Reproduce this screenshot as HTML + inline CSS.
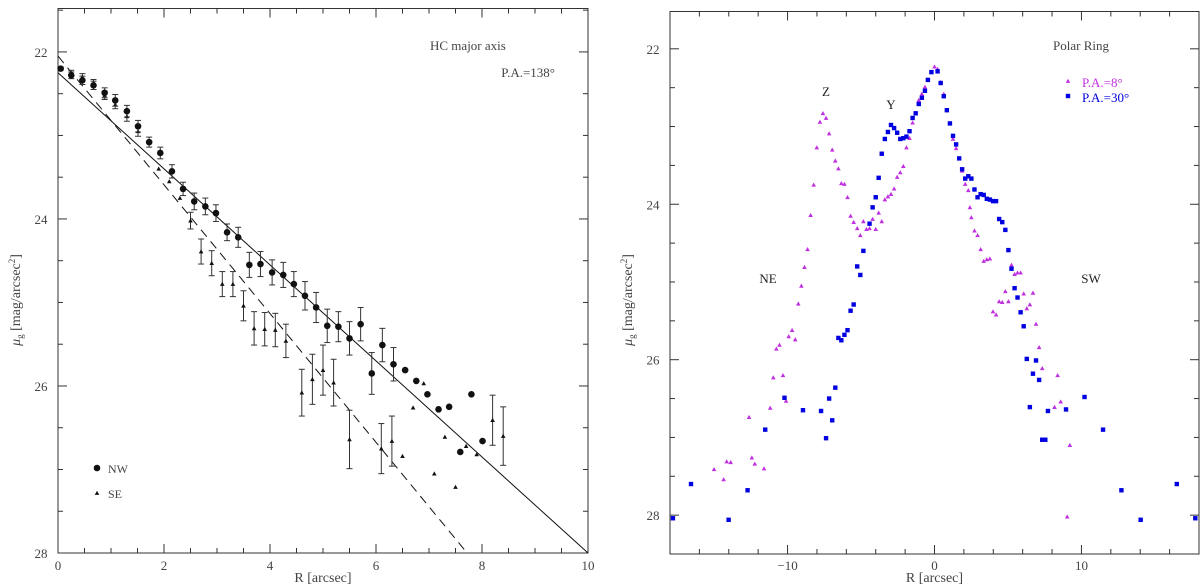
<!DOCTYPE html>
<html><head><meta charset="utf-8"><style>
html,body{margin:0;padding:0;background:#fff;width:1200px;height:586px;overflow:hidden}
svg{display:block}
text{font-family:"Liberation Serif",serif;fill:#444}
</style></head><body>
<svg id="c" width="1200" height="586"></svg>
<script>
// ---- Left panel data ----
const nwR=[0.05,0.25,0.46,0.67,0.88,1.08,1.30,1.51,1.72,1.93,2.15,2.36,2.57,2.78,2.98,3.19,3.40,3.61,3.82,4.04,4.25,4.45,4.66,4.87,5.08,5.29,5.50,5.71,5.92,6.12,6.33,6.55,6.76,6.97,7.18,7.38,7.59,7.80,8.01];
const nwMu=[22.20,22.28,22.34,22.40,22.49,22.58,22.71,22.89,23.08,23.21,23.43,23.64,23.79,23.85,23.93,24.16,24.22,24.55,24.54,24.64,24.67,24.78,24.92,25.06,25.28,25.29,25.43,25.26,25.85,25.51,25.74,25.81,25.94,26.10,26.28,26.25,26.79,26.10,26.66];
const nwErr=[0.02,0.04,0.05,0.05,0.06,0.07,0.07,0.07,0.06,0.07,0.08,0.08,0.1,0.1,0.1,0.1,0.12,0.15,0.15,0.15,0.15,0.15,0.17,0.18,0.2,0.18,0.2,0.2,0.25,0.2,0.2,0,0,0,0,0,0,0,0];
const seR=[0.05,0.25,0.46,0.67,0.88,1.08,1.30,1.51,1.90,2.10,2.30,2.50,2.70,2.90,3.10,3.30,3.50,3.70,3.90,4.10,4.30,4.60,4.80,5.00,5.20,5.50,6.10,6.30,6.50,6.70,6.90,7.10,7.30,7.50,7.70,7.90,8.20,8.40];
const seMu=[22.20,22.25,22.30,22.37,22.52,22.63,22.77,22.95,23.40,23.55,23.75,24.02,24.39,24.53,24.78,24.78,25.04,25.31,25.32,25.33,25.46,26.08,25.92,25.81,25.96,26.64,26.75,26.66,26.84,26.26,25.97,27.05,26.61,27.21,26.72,26.82,26.41,26.60];
const seErr=[0,0.03,0.04,0.04,0.05,0.05,0.06,0.06,0,0,0,0.1,0.15,0.15,0.15,0.15,0.18,0.2,0.2,0.2,0.2,0.28,0.3,0.3,0.28,0.35,0.3,0.3,0,0,0,0,0,0,0,0,0.3,0.35];
const solidLine=[[0,22.25],[10,28]];
const dashLine=[[0,22.05],[7.72,28]];
const leftXTicks=[0,2,4,6,8,10];
const leftYTicks=[22,24,26,28];
// ---- Right panel data ----
const pa8R=[-15.0,-14.35,-14.14,-13.87,-12.62,-12.43,-12.23,-11.6,-11.18,-10.97,-10.76,-10.55,-10.31,-10.1,-9.92,-9.69,-9.48,-9.27,-9.06,-8.85,-8.64,-8.43,-8.22,-8.01,-7.8,-7.59,-7.38,-7.17,-6.96,-6.75,-6.54,-6.34,-6.13,-5.92,-5.71,-5.5,-5.26,-5.05,-4.84,-4.63,-4.42,-4.21,-4.0,-3.8,-3.59,-3.38,-3.17,-2.96,-2.75,-2.54,-2.33,-2.12,-1.91,-1.7,-1.49,-1.28,-1.07,-0.86,-0.65,-0.45,-0.21,0,0.21,0.42,0.63,0.84,1.05,1.26,1.47,1.68,1.88,2.09,2.30,2.41,2.51,2.72,2.93,3.14,3.35,3.56,3.77,3.98,4.19,4.40,4.61,4.82,5.03,5.24,5.45,5.65,5.86,6.07,6.28,6.49,6.70,6.91,7.12,7.33,8.17,8.38,8.59,9.21,9.03];
const pa8Mu=[27.41,27.54,27.31,27.32,26.74,27.26,27.34,27.40,26.62,26.23,25.86,25.81,26.20,26.53,25.70,25.62,25.74,25.28,25.05,24.81,24.58,24.14,23.75,23.27,22.94,22.83,22.89,23.09,23.30,23.44,23.54,23.73,23.74,23.91,24.15,24.23,24.31,24.40,24.22,24.32,24.31,24.19,24.32,24.11,24.22,23.94,23.90,23.87,23.80,23.65,23.59,23.51,23.27,23.15,22.95,22.83,22.66,22.58,22.49,22.40,22.30,22.23,22.26,22.43,22.58,22.79,22.96,23.16,23.28,23.41,23.57,23.74,23.82,24.04,24.17,24.34,24.40,24.58,24.73,24.71,24.70,25.38,25.42,25.25,25.26,25.12,25.25,24.78,24.90,24.88,24.88,25.15,25.34,25.29,25.14,25.54,25.84,26.11,26.61,26.20,26.54,27.10,28.02];
const pa30R=[-17.8,-16.57,-14.01,-12.72,-11.52,-10.21,-8.95,-7.72,-7.38,-7.17,-6.96,-6.75,-6.54,-6.34,-6.13,-5.92,-5.71,-5.5,-5.26,-5.05,-4.84,-4.42,-4.21,-4.0,-3.8,-3.59,-3.38,-3.17,-2.96,-2.75,-2.54,-2.33,-2.12,-1.91,-1.7,-1.49,-1.28,-1.07,-0.86,-0.65,-0.45,-0.21,0.21,0.42,0.63,0.84,1.05,1.26,1.47,1.68,1.88,2.09,2.30,2.51,2.72,2.93,3.14,3.35,3.56,3.77,3.98,4.19,4.40,4.61,4.82,5.03,5.24,5.45,5.65,5.86,6.07,6.28,6.49,6.70,6.91,7.12,7.33,7.54,7.72,8.95,10.21,11.47,12.72,14.03,16.49,17.75];
const pa30Mu=[28.04,27.60,28.06,27.68,26.90,26.49,26.65,26.66,27.01,26.50,26.78,26.36,25.72,25.75,25.68,25.62,25.37,25.29,24.80,24.91,24.60,24.25,24.04,23.91,23.66,23.35,23.16,23.07,22.98,23.02,23.08,23.16,23.15,23.13,23.06,22.89,22.83,22.71,22.63,22.54,22.40,22.30,22.29,22.44,22.61,22.79,22.96,23.12,23.23,23.41,23.55,23.67,23.64,23.67,23.81,23.91,23.87,23.88,23.93,23.94,23.96,23.96,24.19,24.23,24.33,24.59,24.83,25.08,25.20,25.39,25.57,25.99,26.61,26.18,26.01,26.26,27.03,27.03,26.66,26.64,26.48,26.90,27.68,28.06,27.60,28.04];
const rightXTicks=[-10,0,10];
const rightYTicks=[22,24,26,28];

const svg=document.getElementById('c');
const NS='http://www.w3.org/2000/svg';
function mk(tag,attrs,name,parent){const e=document.createElementNS(NS,tag);for(const k in attrs)e.setAttribute(k,attrs[k]);


(parent||svg).appendChild(e);return e;}
function txt(x,y,s,name,opts){const t=mk('text',Object.assign({x:x,y:y,'font-size':13},opts||{}),name);t.textContent=s;return t;}

const L={x0:58,x1:588,y0:8.5,y1:553,xmin:0,xmax:10,ymin:21.48,ymax:28};
const R={x0:670,x1:1199,y0:11.5,y1:554,xmin:-18,xmax:18,ymin:21.52,ymax:28.5};
function sx(P,v){return P.x0+(v-P.xmin)/(P.xmax-P.xmin)*(P.x1-P.x0);}
function sy(P,v){return P.y0+(v-P.ymin)/(P.ymax-P.ymin)*(P.y1-P.y0);}

function frame(P,pre,xminor,xmajor,xlabels,ylabels){
  mk('rect',{x:P.x0,y:P.y0,width:P.x1-P.x0,height:P.y1-P.y0,fill:'none',stroke:'#333','stroke-width':1},pre+'-frame');
  for(let v=Math.ceil(P.xmin/xminor)*xminor;v<=P.xmax+1e-9;v+=xminor){
    const big=Math.abs(v/xmajor-Math.round(v/xmajor))<1e-6;const len=big?9:5;const x=sx(P,v);
    mk('line',{x1:x,x2:x,y1:P.y1,y2:P.y1-len,stroke:'#333'},pre+'-x-tick');
    mk('line',{x1:x,x2:x,y1:P.y0,y2:P.y0+len,stroke:'#333'},pre+'-x-tick-top');
  }
  for(let v=Math.ceil(P.ymin*2)/2;v<=P.ymax+1e-9;v+=0.5){
    const big=Math.abs(v-Math.round(v))<1e-6&&Math.round(v)%2===0;const len=big?9:5;const y=sy(P,v);
    mk('line',{x1:P.x0,x2:P.x0+len,y1:y,y2:y,stroke:'#333'},pre+'-y-tick');
    mk('line',{x1:P.x1,x2:P.x1-len,y1:y,y2:y,stroke:'#333'},pre+'-y-tick-right');
  }
  xlabels.forEach(v=>txt(sx(P,v),570,(v<0?'\u2212'+(-v):String(v)),pre+'-x-tick-label',{'text-anchor':'middle'}));
  ylabels.forEach(v=>txt(P.x0-17,sy(P,v)+5,String(v),pre+'-y-tick-label',{'text-anchor':'middle'}));
  txt((P.x0+P.x1)/2,582,'R [arcsec]',pre+'-x-axis-title',{'text-anchor':'middle','font-size':14});
  const yt=mk('text',{x:0,y:0,'font-size':14,'text-anchor':'middle',transform:'translate('+(P.x0-38)+',300) rotate(-90)'},pre+'-y-axis-title');
  yt.innerHTML='<tspan font-style="italic">μ</tspan><tspan font-size="9" dy="3">g</tspan><tspan dy="-3">  [mag/arcsec</tspan><tspan font-size="9" dy="-5">2</tspan><tspan dy="5">]</tspan>';
}
frame(L,'left',0.5,2,leftXTicks,leftYTicks);
frame(R,'right',2,10,rightXTicks,rightYTicks);

mk('line',{x1:sx(L,solidLine[0][0]),y1:sy(L,solidLine[0][1]),x2:sx(L,solidLine[1][0]),y2:sy(L,solidLine[1][1]),stroke:'#111','stroke-width':1},'exponential-fit-nw');
mk('line',{x1:sx(L,dashLine[0][0]),y1:sy(L,dashLine[0][1]),x2:sx(L,dashLine[1][0]),y2:sy(L,dashLine[1][1]),stroke:'#111','stroke-width':1,'stroke-dasharray':'9,6'},'exponential-fit-se');

function errbar(P,x,m,e,name){if(!e)return;const X=sx(P,x),ya=sy(P,m-e),yb=sy(P,m+e);
  mk('line',{x1:X,x2:X,y1:ya,y2:yb,stroke:'#333','stroke-width':1},name);
  mk('line',{x1:X-3,x2:X+3,y1:ya,y2:ya,stroke:'#333'},name+'-cap');
  mk('line',{x1:X-3,x2:X+3,y1:yb,y2:yb,stroke:'#333'},name+'-cap');}
function tri(x,y,s,fill,name){return mk('polygon',{points:(x)+','+(y-s)+' '+(x-s)+','+(y+s*0.8)+' '+(x+s)+','+(y+s*0.8),fill:fill},name);}

seR.forEach((r,i)=>{errbar(L,r,seMu[i],seErr[i],'se-error-bar');tri(sx(L,r),sy(L,seMu[i]),2.3,'#111','se-point');});
nwR.forEach((r,i)=>{errbar(L,r,nwMu[i],nwErr[i],'nw-error-bar');mk('circle',{cx:sx(L,r),cy:sy(L,nwMu[i]),r:3.3,fill:'#111'},'nw-point');});

txt(430,50,'HC major axis','left-title',{'font-size':13});
txt(555,77,'P.A.=138°','left-pa-label',{'font-size':13,'text-anchor':'end'});
mk('circle',{cx:97,cy:468,r:3.3,fill:'#111'},'legend-nw-marker');
txt(108,473,'NW','legend-nw-label',{'font-size':12});
tri(97,493,2.3,'#111','legend-se-marker');
txt(108,498,'SE','legend-se-label',{'font-size':12});

pa8R.forEach((r,i)=>{tri(sx(R,r),sy(R,pa8Mu[i]),2.3,'#c030e0','pa8-point');});
pa30R.forEach((r,i)=>{const X=sx(R,r),Y=sy(R,pa30Mu[i]);mk('rect',{x:X-2.2,y:Y-2.2,width:4.4,height:4.4,fill:'#0000e0'},'pa30-point');});

txt(1053,50,'Polar Ring','right-title',{'font-size':13});
tri(1068,81,2.3,'#c030e0','legend-pa8-marker');
txt(1082,87,'P.A.=8°','legend-pa8-label',{'font-size':13,style:'fill:#c030e0'});
mk('rect',{x:1065.8,y:93.8,width:4.4,height:4.4,fill:'#0000e0'},'legend-pa30-marker');
txt(1082,102,'P.A.=30°','legend-pa30-label',{'font-size':13,style:'fill:#0000e0'});
txt(826,96,'Z','label-z',{'text-anchor':'middle','font-size':13,style:'fill:#222'});
txt(891,109,'Y','label-y',{'text-anchor':'middle','font-size':13,style:'fill:#222'});
txt(768,283,'NE','label-ne',{'text-anchor':'middle','font-size':13,style:'fill:#222'});
txt(1091,283,'SW','label-sw',{'text-anchor':'middle','font-size':13,style:'fill:#222'});
</script>
</body></html>
